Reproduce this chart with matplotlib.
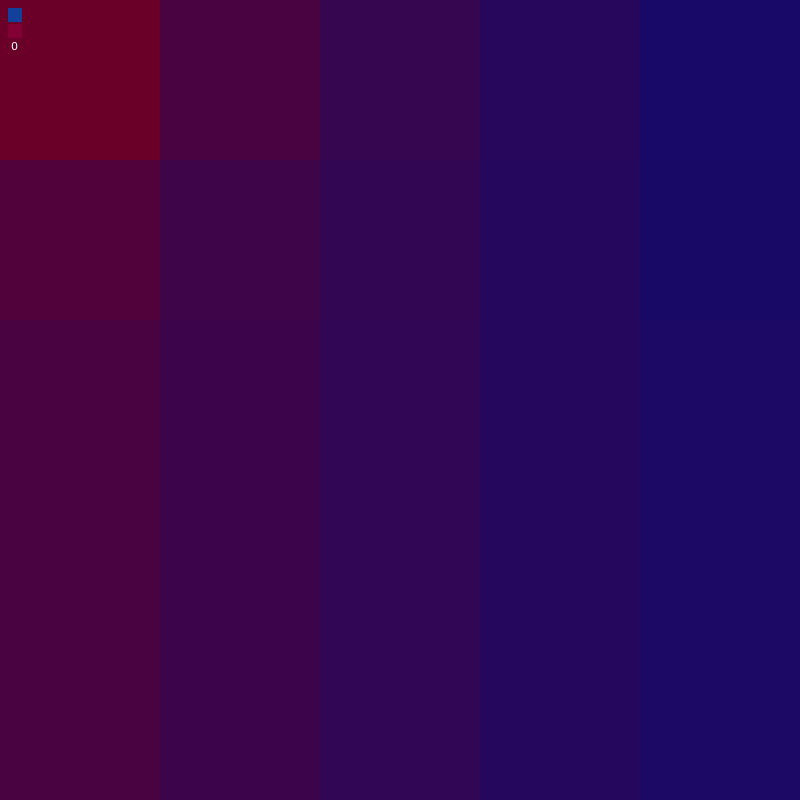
import numpy as np
import matplotlib
matplotlib.use("Agg")
import matplotlib.pyplot as plt
from matplotlib.colors import LinearSegmentedColormap
from matplotlib.patches import Rectangle

# cell values, 5x5 grid (0 = red end, 100 = blue end)
rows = ["r0", "r1", "r2", "r3", "r4"]
cols = ["c0", "c1", "c2", "c3", "c4"]
row0 = [0, 38, 60, 77, 95]
row1 = [28, 50, 65, 79, 93]
row2 = [38, 53, 67, 80, 91]
row3 = [38, 53, 67, 80, 91]
row4 = [38, 53, 67, 80, 91]

low_color = "#6a0027"
high_color = "#140a6c"
legend_colors = ["#12409a", "#820034"]
legend_label = "0"


def main():
    values = np.array([row0, row1, row2, row3, row4], dtype=float)
    cmap = LinearSegmentedColormap.from_list("redblue", [low_color, high_color])

    fig = plt.figure(figsize=(8, 8), dpi=100)
    ax = fig.add_axes([0, 0, 1, 1])
    ax.imshow(values, cmap=cmap, vmin=0, vmax=100, aspect="auto",
              interpolation="nearest")
    ax.set_axis_off()

    # small legend in the top-left corner
    sw = 14 / 800
    for i, c in enumerate(legend_colors):
        y0 = 1 - (8 + i * 16 + 14) / 800
        ax.add_patch(Rectangle((8 / 800, y0), sw, sw, transform=ax.transAxes,
                               facecolor=c, edgecolor="none", zorder=3))
    ax.text(14 / 800, 1 - 47 / 800, legend_label, transform=ax.transAxes,
            color="white", fontsize=8, ha="center", va="center", zorder=3)

    fig.savefig("out.png", dpi=100)


if __name__ == '__main__':
    main()
